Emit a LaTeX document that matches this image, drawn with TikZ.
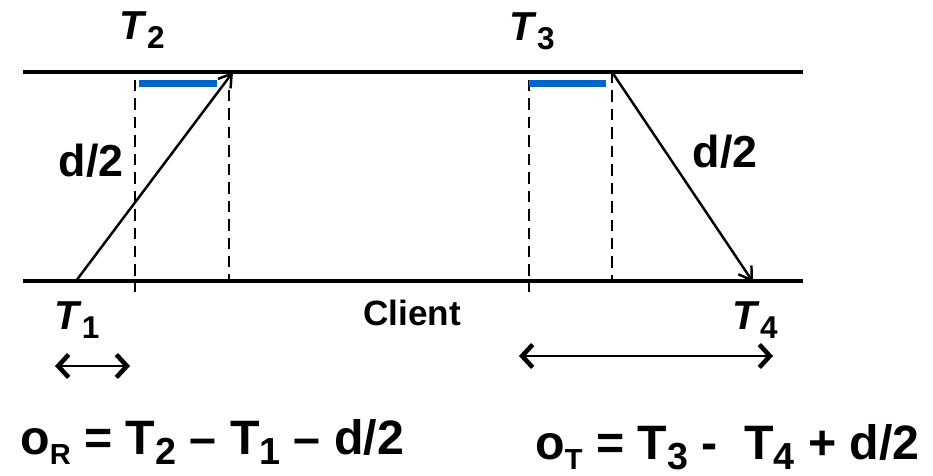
\documentclass[tikz,border=0pt]{standalone}
\usepackage{fontspec}
\usepackage{graphicx}
\setmainfont{Liberation Sans}
\usetikzlibrary{arrows.meta}
\definecolor{barblue}{RGB}{0,102,204}
\newcommand{\lowsub}[2][0.78]{\raisebox{-0.22em}{\scalebox{#1}{#2}}}
\tikzset{
  timeline/.style={line width=2pt},
  msg/.style={line width=1.4pt, -{Straight Barb[length=7pt, width=9pt, line width=1.4pt]}},
  guide/.style={line width=1.5pt, dash pattern=on 6.5pt off 4pt},
  busy/.style={line width=4pt, barblue},
  span/.style={line width=1.4pt, {Straight Barb[length=6pt, width=13pt, line width=2.6pt]}-{Straight Barb[length=6pt, width=13pt, line width=2.6pt]}},
  tlabel/.style={font=\fontsize{23}{26}\selectfont\bfseries},
  clabel/.style={font=\fontsize{20}{24}\selectfont\bfseries},
  dlabel/.style={font=\fontsize{25.5}{30}\selectfont\bfseries},
  eqlabel/.style={font=\fontsize{27.5}{32}\selectfont\bfseries, anchor=base west, inner sep=0pt}
}
\begin{document}
\begin{tikzpicture}[x=0.02cm, y=-0.02cm, line cap=butt, line join=round]
  \useasboundingbox (0,0) rectangle (933,476);
  % server and client time lines
  \coordinate (SL) at (23,72);   \coordinate (SR) at (803,72);
  \coordinate (CL) at (23,281);  \coordinate (CR) at (803,281);
  \draw[timeline] (SL) -- (SR);
  \draw[timeline] (CL) -- (CR);
  % request and reply
  \coordinate (t1) at (76,281);  \coordinate (t2) at (233,72);
  \coordinate (t3) at (612,72);  \coordinate (t4) at (753,282);
  \draw[msg] (t1) -- (t2);
  \draw[msg] (t3) -- (t4);
  % guides
  \coordinate (g1a) at (135,80);  \coordinate (g1b) at (135,292);
  \coordinate (g2a) at (229,90);  \coordinate (g2b) at (229,281);
  \coordinate (g3a) at (529,80);  \coordinate (g3b) at (529,292);
  \coordinate (g4a) at (612,72);  \coordinate (g4b) at (612,281);
  \foreach \g in {1,2,3,4}
    \draw[guide] (g\g a) -- (g\g b);
  % processing bars
  \coordinate (b1a) at (139,83.5); \coordinate (b1b) at (217,83.5);
  \coordinate (b2a) at (529,83.5); \coordinate (b2b) at (606,83.5);
  \draw[busy] (b1a) -- (b1b);
  \draw[busy] (b2a) -- (b2b);
  % offsets
  \coordinate (o1a) at (55,366);  \coordinate (o1b) at (130,366);
  \coordinate (o2a) at (519,356); \coordinate (o2b) at (773,356);
  \draw[span] (o1a) -- (o1b);
  \draw[span] (o2a) -- (o2b);
  % labels
  \node[tlabel] (T2) at (142,30) {\textit{T}\lowsub{2}};
  \node[tlabel] (T3) at (532,31) {\textit{T}\lowsub{3}};
  \node[tlabel] (T1) at (77,320) {\textit{T}\lowsub{1}};
  \node[tlabel] (T4) at (755,320) {\textit{T}\lowsub{4}};
  \node[clabel] (client) at (412,313) {Client};
  \node[dlabel] (dup) at (91,161) {d/2};
  \node[dlabel] (ddown) at (725,152) {d/2};
  \node[eqlabel] (eqR) at (20,454) {o\lowsub[0.6]{R} = T\lowsub{2} – T\lowsub{1} – d/2};
  \node[eqlabel] (eqT) at (535,459) {o\lowsub[0.6]{T} = T\lowsub{3} -~~T\lowsub{4} + d/2};
\end{tikzpicture}
\end{document}
